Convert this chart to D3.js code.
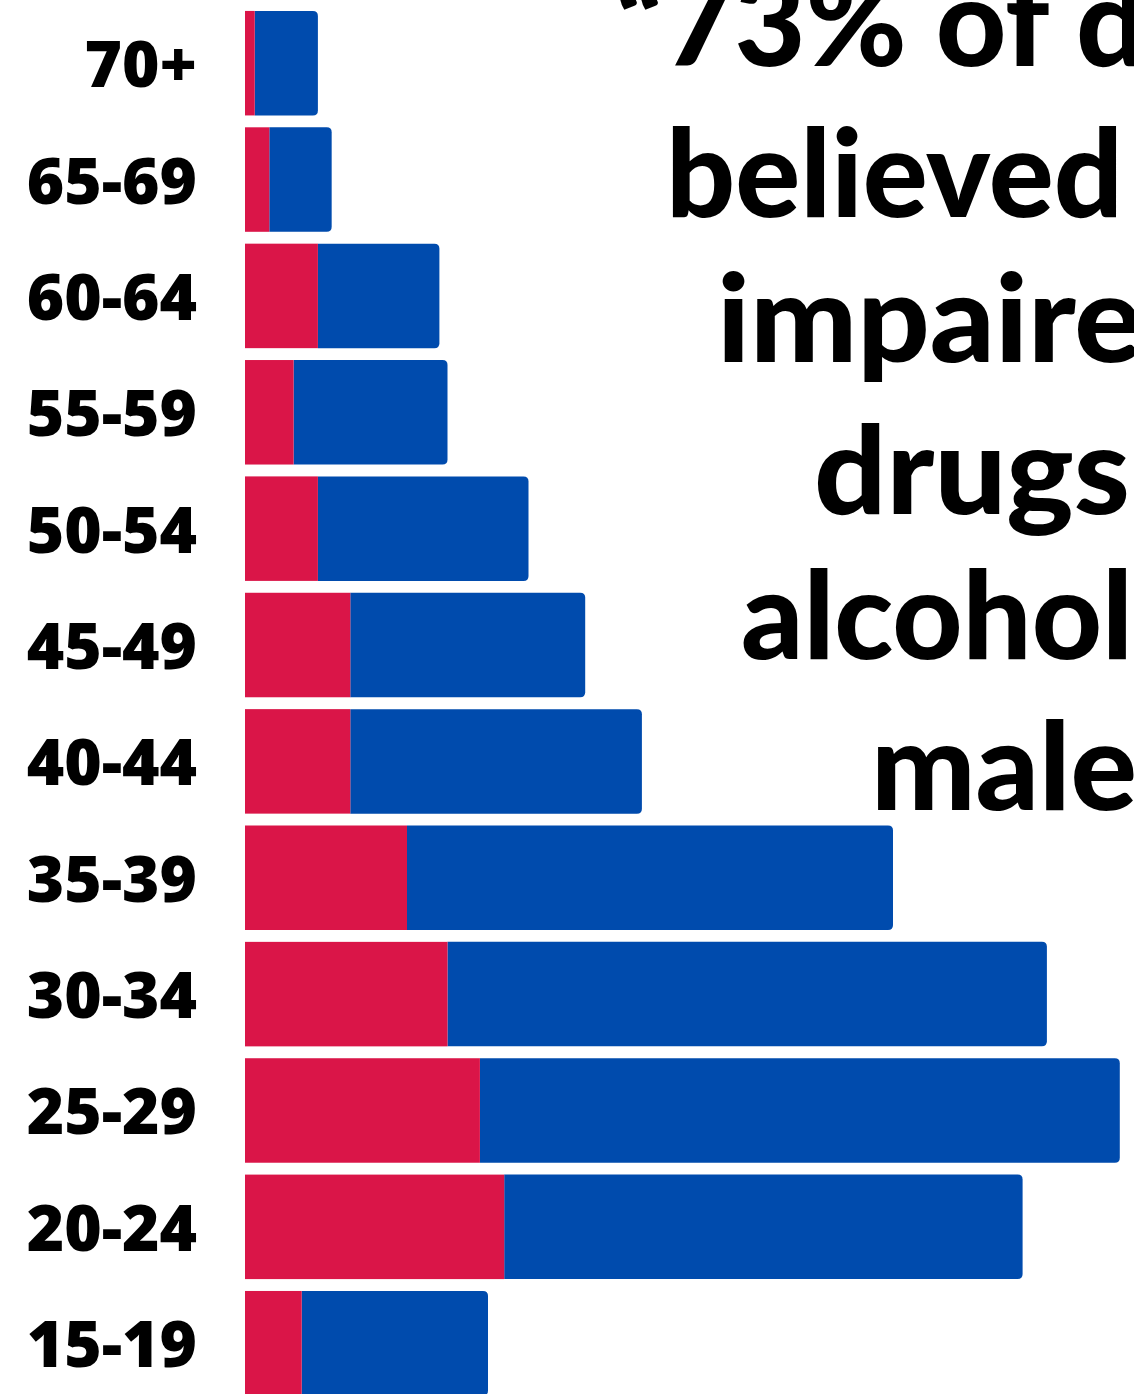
<!DOCTYPE html>
<html>
<head>
<meta charset="utf-8">
<script src="https://cdn.jsdelivr.net/npm/d3@7"></script>
<style>
  body { margin: 0; background: #fff; overflow: hidden; }
  svg { display: block; }
</style>
</head>
<body>
<svg id="chart"></svg>
<script>
const width = 1134;
const height = 1394;

// data, top to bottom
const ageGroups = ["70+", "65-69", "60-64", "55-59", "50-54", "45-49", "40-44", "35-39", "30-34", "25-29", "20-24", "15-19"];
const female = [1.2, 3, 9, 6, 9, 13, 13, 20, 25, 29, 32, 7];
const male = [7.8, 7.7, 15, 19, 26, 29, 36, 60, 74, 79, 64, 23];

const titleLines = ["\u201C73% of drivers", "believed", "impaired", "drugs", "alcohol", "male"];

// layout of the big quote (it runs off the right edge, as in the original)
const titleX = [615, 666, 717, 814, 741, 871];
const titleY = [66, 217, 362, 514, 659, 810];
const titleLen = [838, 457, 498, 316, 392, 266];

const RED = "#da1548";
const BLUE = "#004bad";

const svg = d3.select("#chart").attr("width", width).attr("height", height);

const x = d3.scaleLinear().domain([0, 100]).range([245, 1055]);
const y = d3.scaleBand()
  .domain(ageGroups)
  .range([5, 1401.4])
  .paddingInner(0.102)
  .paddingOuter(0.051);

const rows = ageGroups.map((g, i) => ({ g, f: female[i], m: male[i] }));

// path for a bar with rounded right corners only
function rightRounded(x0, y0, w, h, r) {
  r = Math.min(r, w, h / 2);
  return `M${x0},${y0}H${x0 + w - r}Q${x0 + w},${y0} ${x0 + w},${y0 + r}` +
    `V${y0 + h - r}Q${x0 + w},${y0 + h} ${x0 + w - r},${y0 + h}H${x0}Z`;
}

// male (blue) part
svg.append("g")
  .selectAll("path")
  .data(rows)
  .join("path")
  .attr("fill", BLUE)
  .attr("d", d => rightRounded(x(d.f), y(d.g), x(d.f + d.m) - x(d.f), y.bandwidth(), 5));

// female (red) part
svg.append("g")
  .selectAll("rect")
  .data(rows)
  .join("rect")
  .attr("fill", RED)
  .attr("x", x(0))
  .attr("y", d => y(d.g))
  .attr("width", d => x(d.f) - x(0))
  .attr("height", y.bandwidth());

// age labels
svg.append("g")
  .selectAll("text")
  .data(rows)
  .join("text")
  .attr("x", 197)
  .attr("y", d => y(d.g) + y.bandwidth() / 2 + 24)
  .attr("text-anchor", "end")
  .attr("font-family", "'Open Sans', sans-serif")
  .attr("font-weight", 800)
  .attr("font-size", 64)
  .attr("fill", "#000")
  .text(d => d.g);

// big quote
svg.append("g")
  .selectAll("text")
  .data(titleLines)
  .join("text")
  .attr("x", (d, i) => titleX[i])
  .attr("y", (d, i) => titleY[i])
  .attr("textLength", (d, i) => titleLen[i])
  .attr("lengthAdjust", "spacingAndGlyphs")
  .attr("font-family", "Lato, sans-serif")
  .attr("font-weight", 900)
  .attr("font-size", 122)
  .attr("fill", "#000")
  .text(d => d);
</script>
</body>
</html>
